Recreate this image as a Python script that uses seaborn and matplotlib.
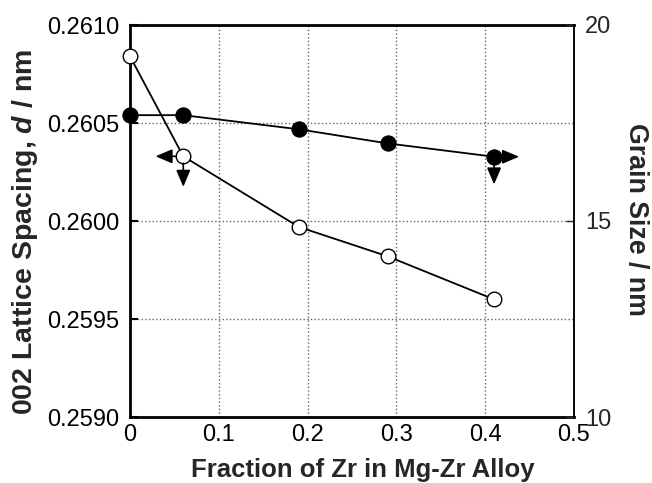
import matplotlib
matplotlib.use("Agg")
import matplotlib.pyplot as plt
import seaborn as sns
import pandas as pd

# Data
zr_fraction = [0.0, 0.06, 0.19, 0.29, 0.41]
lattice_spacing = [0.26084, 0.26033, 0.25997, 0.25982, 0.25960]   # open circles, left axis
grain_size = [17.70, 17.70, 17.34, 16.98, 16.64]                   # filled circles, right axis

x_ticks = [0, 0.1, 0.2, 0.3, 0.4, 0.5]
x_tick_labels = ["0", "0.1", "0.2", "0.3", "0.4", "0.5"]
left_ticks = [0.2590, 0.2595, 0.2600, 0.2605, 0.2610]
left_tick_labels = ["0.2590", "0.2595", "0.2600", "0.2605", "0.2610"]
right_ticks = [10, 15, 20]
right_tick_labels = ["10", "15", "20"]

sns.set_theme(style="white")
plt.rcParams["font.family"] = ["Liberation Sans", "DejaVu Sans"]
plt.rcParams["mathtext.fontset"] = "custom"
plt.rcParams["mathtext.bfit"] = "Liberation Sans:italic:bold"
plt.rcParams["mathtext.it"] = "Liberation Sans:italic"
plt.rcParams["mathtext.bf"] = "Liberation Sans:bold"

df = pd.DataFrame({"x": zr_fraction, "d": lattice_spacing, "g": grain_size})

fig = plt.figure(figsize=(6.52, 4.83), dpi=100)
ax = fig.add_axes([130 / 652, 1 - 417 / 483, (574 - 130) / 652, (417 - 25) / 483])
ax2 = ax.twinx()

sns.lineplot(data=df, x="x", y="d", ax=ax, color="black", lw=1.3,
             marker="o", markersize=10.5, markerfacecolor="white",
             markeredgecolor="black", markeredgewidth=1.0, zorder=5, clip_on=False)
sns.lineplot(data=df, x="x", y="g", ax=ax2, color="black", lw=1.3,
             marker="o", markersize=11, markerfacecolor="black",
             markeredgecolor="black", zorder=5, clip_on=False)

ax.set_xlim(0, 0.5)
ax.set_ylim(0.2590, 0.2610)
ax2.set_ylim(10, 20)

ax.set_xticks(x_ticks)
ax.set_xticklabels(x_tick_labels)
ax.set_yticks(left_ticks)
ax.set_yticklabels(left_tick_labels)
ax2.set_yticks(right_ticks)
ax2.set_yticklabels(right_tick_labels)

ax.grid(True, which="major", axis="both", color="#666666", linestyle=":", lw=1.0)
ax2.grid(False)
ax.set_axisbelow(True)

ax.tick_params(axis="both", direction="in", length=6, width=1.5, labelsize=17,
               colors="black", top=False, right=False)
ax.tick_params(axis="x", pad=5)
ax.tick_params(axis="y", pad=8)
ax2.tick_params(axis="y", direction="in", length=6, width=1.0, labelsize=17, pad=8)

for side in ["left", "bottom", "top"]:
    ax.spines[side].set_linewidth(2.0)
    ax.spines[side].set_color("black")
ax.spines["right"].set_linewidth(1.2)
for sp in ax2.spines.values():
    sp.set_visible(False)
ax2.spines["right"].set_visible(True)
ax2.spines["right"].set_linewidth(1.2)
ax2.spines["right"].set_color("black")

ax.set_xlabel("Fraction of Zr in Mg-Zr Alloy", fontsize=18.5, fontweight="bold", labelpad=9)
ax.xaxis.label.set_x(0.525)
ax.set_ylabel(r"002 Lattice Spacing, $\bfit{d}$ / nm", fontsize=20.5, fontweight="bold", labelpad=5)
ax.yaxis.label.set_y(0.472)
ax2.set_ylabel("Grain Size / nm", fontsize=19.3, fontweight="bold", rotation=270, labelpad=27)
ax2.yaxis.label.set_y(0.505)

arrow_kw = dict(arrowstyle="<|-,head_length=0.85,head_width=0.36", color="black", lw=1.2,
                shrinkA=0, shrinkB=5)
# arrows for open circle (left axis) at second point
i = 1
ax.annotate("", xy=(zr_fraction[i], lattice_spacing[i]), xytext=(-20, 0),
            textcoords="offset points", arrowprops=arrow_kw, zorder=6)
ax.annotate("", xy=(zr_fraction[i], lattice_spacing[i]), xytext=(0, -22),
            textcoords="offset points", arrowprops=arrow_kw, zorder=6)
# arrows for filled circle (right axis) at last point
j = 4
ax2.annotate("", xy=(zr_fraction[j], grain_size[j]), xytext=(18, 0),
             textcoords="offset points", arrowprops=dict(arrow_kw, shrinkB=6), zorder=6)
ax2.annotate("", xy=(zr_fraction[j], grain_size[j]), xytext=(0, -20),
             textcoords="offset points", arrowprops=dict(arrow_kw, shrinkB=6), zorder=6)

fig.savefig("out.png", dpi=100)
